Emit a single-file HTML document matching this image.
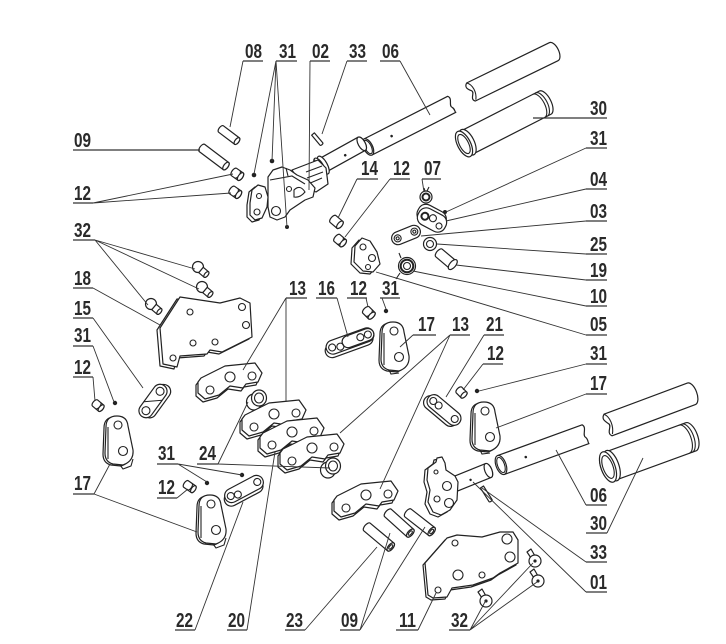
<!DOCTYPE html>
<html><head><meta charset="utf-8"><style>
html,body{margin:0;padding:0;background:#fff}
svg{display:block}
.p{fill:#fff;stroke:#222;stroke-width:1.2;stroke-linejoin:round}
.n{fill:none;stroke:#222;stroke-width:1.1}
.k{fill:none;stroke:#222;stroke-width:2}
.l{fill:none;stroke:#333;stroke-width:0.9}
.u{fill:none;stroke:#333;stroke-width:1.2}
.d{fill:#222}
text{font-family:"Liberation Sans Narrow","Liberation Sans",sans-serif;font-weight:bold;font-size:20px;fill:#2a2a2a}
</style></head><body>
<svg width="726" height="644" viewBox="0 0 726 644" xmlns="http://www.w3.org/2000/svg">

<g transform="translate(471,92) rotate(-26)">
<path class="p" d="M0,-10H92A5,10 0 0 1 92,10H0C-5,6 4,2 1,-1C-2,-4 -4,-7 0,-10Z"/>
<path class="n" d="M0,-10C5,-6 5,3 1,9"/>
</g>
<g transform="translate(464,144) rotate(-27)">
<path class="p" d="M0,-13H91A6,13 0 0 1 91,13H0A6,13 0 0 1 0,-13Z"/>
<path class="n" d="M87,-13A6,13 0 0 1 87,13M84,-13A6,13 0 0 1 84,13"/>
<ellipse class="p" cx="4" rx="6.5" ry="14"/>
<ellipse class="p" cx="0" rx="6.5" ry="14"/>
<ellipse class="n" cx="0" rx="4.5" ry="10.5"/>
</g>
<g transform="translate(368,147) rotate(-27)">
<path class="p" d="M0,-9H94C98,-5 90,0 93,3C95,6 93,8 94,9H0Z"/>
<ellipse class="p" cx="0" rx="4.5" ry="9"/>
<ellipse class="n" cx="0" rx="3.2" ry="7.3"/>
<circle class="d" cx="26" cy="1" r="1.3"/>
</g>
<g transform="translate(318,168) rotate(-29)">
<path class="p" d="M0,-7.5H50A3.5,7.5 0 0 1 50,7.5H0Z"/>
<ellipse class="p" cx="50" rx="3.5" ry="7.5"/>
<circle class="d" cx="30" cy="2" r="1.3"/>
<ellipse class="p" cx="6" rx="4" ry="10"/>
<ellipse class="p" cx="2" rx="4" ry="10"/>
<path class="n" d="M-2,-8 L-2,8 M1,-9 L1,9"/>
</g>

<path class="p" d="M292,170 L318,160 L326,168 L328,184 L316,192 L302,186 Z"/>
<path class="n" d="M306,172 L322,166 M307,178 L323,172 M308,184 L322,178"/>
<path class="p" d="M268,177 L273,170 L282,167 L290,170 L297,175 L308,180 L315,188 L313,197 L305,200 L290,210 L285,217 L277,220 L270,217 L268,207 Z"/>
<path class="n" d="M270,180 L292,176 L305,184 M286,168 L288,176"/>
<circle class="n" cx="276" cy="211" r="4.5"/>
<circle class="n" cx="289" cy="189" r="2.5"/>
<path class="n" d="M294,190 Q300,184 305,192 Q300,198 294,197 Z"/>
<path class="p" d="M249,192 L255,187 L262,189 L265,199 L264,209 L259,220 L252,222 L247,217 L247,205 Z"/>
<path class="p" d="M252,190 L258,185 L265,187 L268,197 L267,207 L262,218 L255,220 L250,215 L250,203 Z"/>
<circle class="n" cx="257" cy="212" r="3"/>
<circle class="n" cx="259" cy="196" r="2.5"/>

<g transform="translate(221,129) rotate(37)"><path class="p" d="M0,-4H20A2,4 0 0 1 20,4H0A2,4 0 0 1 0,-4Z"/><ellipse class="p" cx="20" rx="2" ry="4"/></g>
<g transform="translate(202,148) rotate(37)"><path class="p" d="M0,-4.5H30A2.2,4.5 0 0 1 30,4.5H0A2.2,4.5 0 0 1 0,-4.5Z"/><ellipse class="p" cx="30" rx="2.2" ry="4.5"/></g>
<g transform="translate(234,172) rotate(35)"><path class="p" d="M0,-4.5H8A2.2,4.5 0 0 1 8,4.5H0A2.2,4.5 0 0 1 0,-4.5Z"/><path class="n" d="M4,-4.5A2.2,4.5 0 0 1 4,4.5"/><ellipse class="p" cx="8" rx="2.2" ry="4.5"/></g>
<g transform="translate(232,190) rotate(35)"><path class="p" d="M0,-4.5H8A2.2,4.5 0 0 1 8,4.5H0A2.2,4.5 0 0 1 0,-4.5Z"/><path class="n" d="M4,-4.5A2.2,4.5 0 0 1 4,4.5"/><ellipse class="p" cx="8" rx="2.2" ry="4.5"/></g>
<g transform="translate(313,134) rotate(50)"><path class="p" d="M0,-1.8H13A1,1.8 0 0 1 13,1.8H0Z"/></g>

<circle class="d" cx="254" cy="175" r="2.3"/>
<circle class="d" cx="272" cy="161" r="2.3"/>
<circle class="d" cx="287" cy="227" r="2"/>
<circle class="d" cx="445" cy="212" r="2"/>
<circle class="d" cx="386" cy="311" r="2.2"/>
<circle class="d" cx="115" cy="403" r="2.2"/>
<circle class="d" cx="207" cy="483" r="2.2"/>
<circle class="d" cx="242" cy="475" r="2.2"/>
<circle class="d" cx="477" cy="391" r="2.2"/>

<circle class="p" cx="426" cy="197" r="6"/><circle class="k" cx="426" cy="197" r="3.5"/><path class="n" d="M427,191 L429,187 M425,191 L424,188"/>
<g transform="translate(432,220) rotate(28)">
<rect class="p" x="-17" y="-12" width="30" height="18" rx="8"/>
<rect class="p" x="-15" y="-9" width="30" height="18" rx="8"/>
<circle class="k" cx="-8" cy="0" r="3.5"/><circle class="n" cx="0" cy="-2" r="3.5"/><circle class="n" cx="9" cy="2" r="3"/>
</g>
<g transform="translate(406,235) rotate(-22)">
<rect class="p" x="-15" y="-6.5" width="30" height="13" rx="6.5"/>
<circle class="n" cx="-9" cy="0" r="3.5"/><circle class="n" cx="9" cy="0" r="3.5"/>
<circle class="n" cx="-9" cy="0" r="1.5"/><circle class="n" cx="9" cy="0" r="1.5"/>
</g>
<circle class="p" cx="430" cy="244" r="6.5"/><circle class="n" cx="430" cy="244" r="3.5"/>
<g transform="translate(439,253) rotate(40)"><path class="p" d="M0,-5H18A2.5,5 0 0 1 18,5H0A2.5,5 0 0 1 0,-5Z"/><ellipse class="p" cx="18" rx="3" ry="6"/></g>
<circle class="p" cx="407" cy="266" r="8.5"/><circle class="k" cx="407" cy="266" r="6.3"/><circle class="n" cx="407" cy="266" r="3.5"/>
<path class="n" d="M401,258 L399,253 M400,273 L396,279"/>
<g transform="translate(333,219) rotate(40)"><path class="p" d="M0,-4.5H9A2.2,4.5 0 0 1 9,4.5H0A2.2,4.5 0 0 1 0,-4.5Z"/><ellipse class="p" cx="9" rx="2.2" ry="4.5"/></g>
<g transform="translate(337,238) rotate(40)"><path class="p" d="M0,-4.5H8A2.2,4.5 0 0 1 8,4.5H0A2.2,4.5 0 0 1 0,-4.5Z"/><path class="n" d="M4,-4.5A2.2,4.5 0 0 1 4,4.5"/><ellipse class="p" cx="8" rx="2.2" ry="4.5"/></g>
<path class="p" d="M352,248 L359,240 L367,243 L374,254 L377,266 L370,274 L360,273 L351,264 Z"/>
<path class="p" d="M355,246 L362,238 L370,241 L377,252 L380,264 L373,272 L363,271 L354,262 Z"/>
<circle class="n" cx="363" cy="247" r="3"/><circle class="n" cx="372" cy="258" r="3.5"/><circle class="n" cx="368" cy="267" r="2.5"/>

<g><circle class="p" cx="198" cy="267" r="5.5"/><g transform="translate(201,270) rotate(40)"><path class="p" d="M0,-3.5H7A1.7,3.5 0 0 1 7,3.5H0Z"/><ellipse class="p" cx="7" rx="1.7" ry="3.5"/></g></g>
<g><circle class="p" cx="202" cy="287" r="5.5"/><g transform="translate(205,290) rotate(40)"><path class="p" d="M0,-3.5H7A1.7,3.5 0 0 1 7,3.5H0Z"/><ellipse class="p" cx="7" rx="1.7" ry="3.5"/></g></g>
<g><circle class="p" cx="151" cy="304" r="5.5"/><g transform="translate(154,307) rotate(40)"><path class="p" d="M0,-3.5H7A1.7,3.5 0 0 1 7,3.5H0Z"/><ellipse class="p" cx="7" rx="1.7" ry="3.5"/></g></g>
<path class="p" d="M157,330 L177,299 L217,305 L237,300 L247,305 L249,339 L219,354 L207,352 L204,356 L177,358 L174,369 L160,366 Z"/>
<path class="p" d="M160,328 L180,297 L220,303 L240,298 L250,303 L252,337 L222,352 L210,350 L207,354 L180,356 L177,367 L163,364 Z"/>
<circle class="n" cx="190" cy="312" r="3"/><circle class="n" cx="242" cy="307" r="3.5"/><circle class="n" cx="246" cy="325" r="3.5"/>
<circle class="n" cx="193" cy="343" r="3"/><circle class="n" cx="215" cy="342" r="3"/><circle class="n" cx="173" cy="358" r="3"/>
<g transform="translate(153,401) rotate(-54)">
<rect class="p" x="-17" y="-4" width="38" height="14" rx="7"/>
<rect class="p" x="-19" y="-7" width="38" height="14" rx="7"/>
<circle class="n" cx="-12" cy="0" r="4"/><circle class="n" cx="12" cy="0" r="4"/>
<path class="n" d="M-6,-7 L6,7"/>
</g>
<g transform="translate(95,403) rotate(40)"><path class="p" d="M0,-4H8A2,4 0 0 1 8,4H0A2,4 0 0 1 0,-4Z"/><path class="n" d="M4,-4A2,4 0 0 1 4,4"/><ellipse class="p" cx="8" rx="2" ry="4"/></g>
<g transform="translate(186,484) rotate(35)"><path class="p" d="M0,-4H9A2,4 0 0 1 9,4H0A2,4 0 0 1 0,-4Z"/><path class="n" d="M4.5,-4A2,4 0 0 1 4.5,4"/><ellipse class="p" cx="9" rx="2" ry="4"/></g>
<g transform="translate(366,310) rotate(45)"><path class="p" d="M0,-4.5H8A2.2,4.5 0 0 1 8,4.5H0A2.2,4.5 0 0 1 0,-4.5Z"/><path class="n" d="M4,-4.5A2.2,4.5 0 0 1 4,4.5"/><ellipse class="p" cx="8" rx="2.2" ry="4.5"/></g>
<g transform="translate(459,390) rotate(45)"><path class="p" d="M0,-4H7A2,4 0 0 1 7,4H0A2,4 0 0 1 0,-4Z"/><ellipse class="p" cx="7" rx="2" ry="4"/></g>

<g transform="translate(103,415)">
<path class="p" d="M1,13 Q1,2 12,2 Q22,2 23,12 L28,36 Q29,47 18,51 L8,50 Q0,48 0,39 Z"/>
<path class="p" d="M3,12 Q3,1 14,1 Q24,1 25,11 L30,35 Q31,46 20,50 L10,49 Q2,47 2,38 Z"/>
<path class="n" d="M5,12 L5,44 M17,50 L20,54 L28,51 L30,44"/>
<circle class="n" cx="15" cy="10" r="4"/><circle class="n" cx="20" cy="36" r="4.5"/>
</g>
<g transform="translate(196,494)">
<path class="p" d="M1,13 Q1,2 12,2 Q22,2 23,12 L28,36 Q29,47 18,51 L8,50 Q0,48 0,39 Z"/>
<path class="p" d="M3,12 Q3,1 14,1 Q24,1 25,11 L30,35 Q31,46 20,50 L10,49 Q2,47 2,38 Z"/>
<path class="n" d="M5,12 L5,44 M17,50 L20,54 L28,51 L30,44"/>
<circle class="n" cx="15" cy="10" r="4"/><circle class="n" cx="20" cy="36" r="4.5"/>
</g>
<g transform="translate(379,321)">
<path class="p" d="M1,13 Q1,2 12,2 Q22,2 23,12 L28,36 Q29,47 18,51 L8,50 Q0,48 0,39 Z"/>
<path class="p" d="M3,12 Q3,1 14,1 Q24,1 25,11 L30,35 Q31,46 20,50 L10,49 Q2,47 2,38 Z"/>
<path class="n" d="M5,12 L5,44 M10,49 L12,53 L20,52"/>
<circle class="n" cx="15" cy="10" r="4"/><circle class="n" cx="20" cy="36" r="4.5"/>
</g>
<g transform="translate(470,401)">
<path class="p" d="M1,13 Q1,2 12,2 Q22,2 23,12 L28,36 Q29,47 18,51 L8,50 Q0,48 0,39 Z"/>
<path class="p" d="M3,12 Q3,1 14,1 Q24,1 25,11 L30,35 Q31,46 20,50 L10,49 Q2,47 2,38 Z"/>
<path class="n" d="M5,12 L5,44 M10,49 L12,53 L20,52"/>
<circle class="n" cx="15" cy="10" r="4"/><circle class="n" cx="20" cy="36" r="4.5"/>
</g>

<g transform="translate(350,341) rotate(-20)">
<rect class="p" x="-27" y="-4" width="50" height="14" rx="7"/>
<rect class="p" x="-25" y="-7" width="50" height="14" rx="7"/>
<rect class="p" x="-8" y="-6" width="33" height="12" rx="6"/>
<circle class="n" cx="-19" cy="0" r="3.5"/><circle class="n" cx="-11" cy="2" r="3.5"/><circle class="n" cx="11" cy="0" r="3.5"/><circle class="n" cx="19" cy="0" r="3.5"/>
</g>
<g transform="translate(244,489) rotate(-28)">
<rect class="p" x="-23" y="-4" width="42" height="14" rx="7"/>
<rect class="p" x="-21" y="-7" width="42" height="14" rx="7"/>
<circle class="n" cx="-15" cy="0" r="3.5"/><circle class="n" cx="-8" cy="2" r="3.5"/><circle class="n" cx="15" cy="0" r="3.5"/>
</g>
<g transform="translate(444,410) rotate(40)">
<rect class="p" x="-22" y="-4" width="40" height="14" rx="7"/>
<rect class="p" x="-20" y="-7" width="40" height="14" rx="7"/>
<circle class="n" cx="-14" cy="0" r="3.5"/><circle class="n" cx="-7" cy="0" r="3.5"/><circle class="n" cx="14" cy="0" r="3.5"/>
</g>

<g transform="translate(198,363)">
<path class="p" d="M1,18 L25,6 L55,3 L62,13 L58,22 L46,24 L43,28 L30,26 L19,35 L5,39 L-2,33 L-2,22 Z"/>
<path class="p" d="M3,15 L27,3 L57,0 L64,10 L60,19 L48,21 L45,25 L32,23 L21,32 L7,36 L0,30 L0,19 Z"/>
<circle class="n" cx="12" cy="27" r="4"/><circle class="n" cx="32" cy="14" r="5"/><circle class="n" cx="54" cy="13" r="4"/>
</g>
<ellipse class="p" cx="254" cy="402" rx="7.5" ry="8"/>
<ellipse class="p" cx="259" cy="398" rx="7.5" ry="8"/><ellipse class="n" cx="259" cy="398" rx="4.5" ry="5"/>
<g transform="translate(242,400)">
<path class="p" d="M1,18 L25,6 L55,3 L62,13 L58,22 L46,24 L43,28 L30,26 L19,35 L5,39 L-2,33 L-2,22 Z"/>
<path class="p" d="M3,15 L27,3 L57,0 L64,10 L60,19 L48,21 L45,25 L32,23 L21,32 L7,36 L0,30 L0,19 Z"/>
<circle class="n" cx="12" cy="27" r="4"/><circle class="n" cx="32" cy="14" r="5"/><circle class="n" cx="54" cy="13" r="4"/>
</g>
<g transform="translate(260,418)">
<path class="p" d="M1,18 L25,6 L55,3 L62,13 L58,22 L46,24 L43,28 L30,26 L19,35 L5,39 L-2,33 L-2,22 Z"/>
<path class="p" d="M3,15 L27,3 L57,0 L64,10 L60,19 L48,21 L45,25 L32,23 L21,32 L7,36 L0,30 L0,19 Z"/>
<circle class="n" cx="12" cy="27" r="4"/><circle class="n" cx="32" cy="14" r="5"/><circle class="n" cx="54" cy="13" r="4"/>
</g>
<g transform="translate(280,434)">
<path class="p" d="M1,18 L25,6 L55,3 L62,13 L58,22 L46,24 L43,28 L30,26 L19,35 L5,39 L-2,33 L-2,22 Z"/>
<path class="p" d="M3,15 L27,3 L57,0 L64,10 L60,19 L48,21 L45,25 L32,23 L21,32 L7,36 L0,30 L0,19 Z"/>
<circle class="n" cx="12" cy="27" r="4"/><circle class="n" cx="32" cy="14" r="5"/><circle class="n" cx="54" cy="13" r="4"/>
</g>
<ellipse class="p" cx="328" cy="470" rx="7.5" ry="8"/>
<ellipse class="p" cx="333" cy="466" rx="7.5" ry="8"/><ellipse class="n" cx="333" cy="466" rx="4.5" ry="5"/>
<g transform="translate(334,481)">
<path class="p" d="M1,18 L25,6 L55,3 L62,13 L58,22 L46,24 L43,28 L30,26 L19,35 L5,39 L-2,33 L-2,22 Z"/>
<path class="p" d="M3,15 L27,3 L57,0 L64,10 L60,19 L48,21 L45,25 L32,23 L21,32 L7,36 L0,30 L0,19 Z"/>
<circle class="n" cx="12" cy="27" r="4"/><circle class="n" cx="32" cy="14" r="5"/><circle class="n" cx="54" cy="13" r="4"/>
</g>

<g transform="translate(367,527) rotate(40)"><path class="p" d="M0,-5H31A2.5,5 0 0 1 31,5H0A2.5,5 0 0 1 0,-5Z"/><ellipse class="p" cx="31" rx="2.5" ry="5"/><ellipse class="n" cx="31" rx="1.3" ry="2.6"/></g>
<g transform="translate(388,513) rotate(42)"><path class="p" d="M0,-5H30A2.5,5 0 0 1 30,5H0A2.5,5 0 0 1 0,-5Z"/><ellipse class="p" cx="30" rx="2.5" ry="5"/><ellipse class="n" cx="30" rx="1.3" ry="2.6"/></g>
<g transform="translate(408,513) rotate(38)"><path class="p" d="M0,-5H30A2.5,5 0 0 1 30,5H0A2.5,5 0 0 1 0,-5Z"/><ellipse class="p" cx="30" rx="2.5" ry="5"/><ellipse class="n" cx="30" rx="1.3" ry="2.6"/></g>

<g transform="translate(608,425) rotate(-20.5)">
<path class="p" d="M0,-11.5H89A5.5,11.5 0 0 1 89,11.5H0C-5,7 4,2 1,-1C-2,-5 -4,-8 0,-11.5Z"/>
<path class="n" d="M0,-11.5C5,-7 5,3 1,10"/>
</g>
<g transform="translate(608,467) rotate(-20)">
<path class="p" d="M0,-15H88A7,15 0 0 1 88,15H0A7,15 0 0 1 0,-15Z"/>
<path class="n" d="M84,-15A7,15 0 0 1 84,15M81,-15A7,15 0 0 1 81,15"/>
<ellipse class="p" cx="4" rx="7" ry="16"/>
<ellipse class="p" cx="0" rx="7" ry="16"/>
<ellipse class="n" cx="0" rx="5" ry="12"/>
</g>
<g transform="translate(501,465) rotate(-20)">
<path class="p" d="M0,-10H90C94,-6 86,0 89,3C91,6 89,9 90,10H0Z"/>
<ellipse class="p" cx="0" rx="5" ry="10"/>
<ellipse class="n" cx="0" rx="3.5" ry="8"/>
<circle class="d" cx="26" cy="1" r="1.3"/>
</g>
<g transform="translate(455,484) rotate(-22)">
<path class="p" d="M0,-7.5H36A3.5,7.5 0 0 1 36,7.5H0Z"/>
<ellipse class="p" cx="36" rx="3.5" ry="7.5"/>
<circle class="d" cx="16" cy="2" r="1.2"/>
</g>
<path class="p" d="M425,470 L433,464 L434,460 L439,459 L442,465 L443,472 L452,478 L455,484 L454,502 L447,512 L438,517 L430,514 L425,504 L427,492 L424,482 Z"/>
<path class="p" d="M428,468 L436,462 L437,458 L442,457 L445,463 L446,470 L455,476 L458,482 L457,500 L450,510 L441,515 L433,512 L428,502 L430,490 L427,480 Z"/>
<circle class="n" cx="447" cy="486" r="4.5"/><circle class="n" cx="449" cy="503" r="4.5"/><circle class="n" cx="437" cy="499" r="3"/><circle class="n" cx="436" cy="472" r="2"/>
<g transform="translate(482,487) rotate(58)"><path class="p" d="M0,-1.8H16A1,1.8 0 0 1 16,1.8H0Z"/></g>
<path class="p" d="M423,565 L445,540 L455,537 L480,539 L498,534 L511,534 L516,542 L516,565 L498,575 L491,580 L471,587 L450,590 L445,599 L431,600 L426,597 Z"/>
<path class="p" d="M425,563 L447,538 L457,535 L482,537 L500,532 L513,532 L518,540 L518,563 L500,573 L493,578 L473,585 L452,588 L447,597 L433,598 L428,595 Z"/>
<circle class="n" cx="507" cy="539" r="5"/><circle class="n" cx="510" cy="557" r="5"/><circle class="n" cx="458" cy="575" r="5"/>
<circle class="n" cx="482" cy="575" r="3"/><circle class="n" cx="455" cy="543" r="3"/><circle class="n" cx="438" cy="590" r="3"/>
<g><path class="p" d="M527,552 L531,549 L535,556 L531,558 Z"/><circle class="p" cx="535" cy="561" r="6"/><circle class="d" cx="535" cy="561" r="1.6"/></g>
<g><path class="p" d="M530,572 L534,569 L538,576 L534,578 Z"/><circle class="p" cx="538" cy="581" r="6"/><circle class="d" cx="538" cy="581" r="1.6"/></g>
<g><path class="p" d="M478,592 L482,589 L486,596 L482,598 Z"/><circle class="p" cx="486" cy="601" r="6"/><circle class="d" cx="486" cy="601" r="1.6"/></g>

<path class="l" d="
M243,61 L230,127
M276,61 L254,174 M276,61 L272,161 M276,61 L287,227
M310,61 L309,190
M347,61 L322,134
M400,61 L430,115
M93,203 L233,174 M93,203 L231,193
M95,240 L195,269 M95,240 L199,289 M95,240 L148,305
M93,288 L160,325
M93,318 L143,388
M93,346 L114,402
M93,377 L95,401
M94,494 L110,464 M94,494 L197,532
M357,179 L338,218
M390,179 L345,237
M422,179 L424,192
M586,148 L446,212
M586,189 L446,221
M586,221 L421,236
M586,254 L437,244
M586,280 L456,265
M586,306 L413,271
M586,335 L376,272
M286,298 L243,370 M286,298 L286,402
M337,298 L348,337
M366,298 L368,307
M382,298 L386,309
M413,335 L400,347
M450,335 L340,433 M450,335 L380,489
M484,335 L446,397
M483,364 L463,390
M586,364 L479,391
M586,394 L496,428
M586,505 L556,450
M607,533 L643,458
M586,562 L482,488
M586,592 L473,482
M178,464 L207,482 M178,464 L242,475
M218,464 L248,402 M218,464 L330,468
M177,498 L188,489
M195,630 L243,502
M247,630 L275,452
M305,630 L377,547
M360,630 L390,533 M360,630 L425,527
M418,630 L436,593
M470,630 L486,600 M470,630 L533,563 M470,630 L537,582
"/>

<path class="u" d="
M243,61H263 M276,61H297 M310,61H330 M347,61H367 M380,61H400
M73,150H200 M73,203H93 M73,240H95 M73,288H93 M73,318H93 M73,346H93 M73,377H93 M73,494H94
M357,179H378 M390,179H410 M422,179H441
M533,118H607 M586,148H607 M586,189H607 M586,221H607 M586,254H607 M586,280H607 M586,306H607 M586,335H607
M286,298H307 M316,298H337 M347,298H367 M380,298H400
M413,335H436 M450,335H470 M484,335H504
M483,364H503 M586,364H607 M586,394H607
M157,464H178 M197,464H218 M157,498H177
M586,505H607 M586,533H607 M586,562H607 M586,592H607
M175,630H195 M227,630H247 M285,630H305 M340,630H360 M396,630H418 M449,630H470
"/>

<g>
<text x="245" y="58" textLength="17" lengthAdjust="spacingAndGlyphs">08</text>
<text x="279" y="58" textLength="17" lengthAdjust="spacingAndGlyphs">31</text>
<text x="312" y="58" textLength="17" lengthAdjust="spacingAndGlyphs">02</text>
<text x="349" y="58" textLength="17" lengthAdjust="spacingAndGlyphs">33</text>
<text x="382" y="58" textLength="17" lengthAdjust="spacingAndGlyphs">06</text>
<text x="74" y="147" textLength="17" lengthAdjust="spacingAndGlyphs">09</text>
<text x="74" y="200" textLength="17" lengthAdjust="spacingAndGlyphs">12</text>
<text x="74" y="237" textLength="17" lengthAdjust="spacingAndGlyphs">32</text>
<text x="74" y="285" textLength="17" lengthAdjust="spacingAndGlyphs">18</text>
<text x="74" y="315" textLength="17" lengthAdjust="spacingAndGlyphs">15</text>
<text x="74" y="342" textLength="17" lengthAdjust="spacingAndGlyphs">31</text>
<text x="74" y="374" textLength="17" lengthAdjust="spacingAndGlyphs">12</text>
<text x="74" y="490" textLength="17" lengthAdjust="spacingAndGlyphs">17</text>
<text x="361" y="175" textLength="17" lengthAdjust="spacingAndGlyphs">14</text>
<text x="393" y="175" textLength="17" lengthAdjust="spacingAndGlyphs">12</text>
<text x="424" y="175" textLength="17" lengthAdjust="spacingAndGlyphs">07</text>
<text x="590" y="115" textLength="17" lengthAdjust="spacingAndGlyphs">30</text>
<text x="590" y="145" textLength="17" lengthAdjust="spacingAndGlyphs">31</text>
<text x="590" y="186" textLength="17" lengthAdjust="spacingAndGlyphs">04</text>
<text x="590" y="218" textLength="17" lengthAdjust="spacingAndGlyphs">03</text>
<text x="590" y="251" textLength="17" lengthAdjust="spacingAndGlyphs">25</text>
<text x="590" y="277" textLength="17" lengthAdjust="spacingAndGlyphs">19</text>
<text x="590" y="303" textLength="17" lengthAdjust="spacingAndGlyphs">10</text>
<text x="590" y="331" textLength="17" lengthAdjust="spacingAndGlyphs">05</text>
<text x="289" y="295" textLength="17" lengthAdjust="spacingAndGlyphs">13</text>
<text x="318" y="295" textLength="17" lengthAdjust="spacingAndGlyphs">16</text>
<text x="350" y="295" textLength="17" lengthAdjust="spacingAndGlyphs">12</text>
<text x="382" y="295" textLength="17" lengthAdjust="spacingAndGlyphs">31</text>
<text x="418" y="331" textLength="17" lengthAdjust="spacingAndGlyphs">17</text>
<text x="452" y="331" textLength="17" lengthAdjust="spacingAndGlyphs">13</text>
<text x="486" y="331" textLength="17" lengthAdjust="spacingAndGlyphs">21</text>
<text x="487" y="360" textLength="17" lengthAdjust="spacingAndGlyphs">12</text>
<text x="590" y="360" textLength="17" lengthAdjust="spacingAndGlyphs">31</text>
<text x="590" y="390" textLength="17" lengthAdjust="spacingAndGlyphs">17</text>
<text x="158" y="460" textLength="17" lengthAdjust="spacingAndGlyphs">31</text>
<text x="199" y="460" textLength="17" lengthAdjust="spacingAndGlyphs">24</text>
<text x="158" y="494" textLength="17" lengthAdjust="spacingAndGlyphs">12</text>
<text x="590" y="502" textLength="17" lengthAdjust="spacingAndGlyphs">06</text>
<text x="590" y="530" textLength="17" lengthAdjust="spacingAndGlyphs">30</text>
<text x="590" y="559" textLength="17" lengthAdjust="spacingAndGlyphs">33</text>
<text x="590" y="589" textLength="17" lengthAdjust="spacingAndGlyphs">01</text>
<text x="176" y="627" textLength="17" lengthAdjust="spacingAndGlyphs">22</text>
<text x="228" y="627" textLength="17" lengthAdjust="spacingAndGlyphs">20</text>
<text x="286" y="627" textLength="17" lengthAdjust="spacingAndGlyphs">23</text>
<text x="341" y="627" textLength="17" lengthAdjust="spacingAndGlyphs">09</text>
<text x="399" y="627" textLength="17" lengthAdjust="spacingAndGlyphs">11</text>
<text x="451" y="627" textLength="17" lengthAdjust="spacingAndGlyphs">32</text>
</g>
</svg>
</body></html>
